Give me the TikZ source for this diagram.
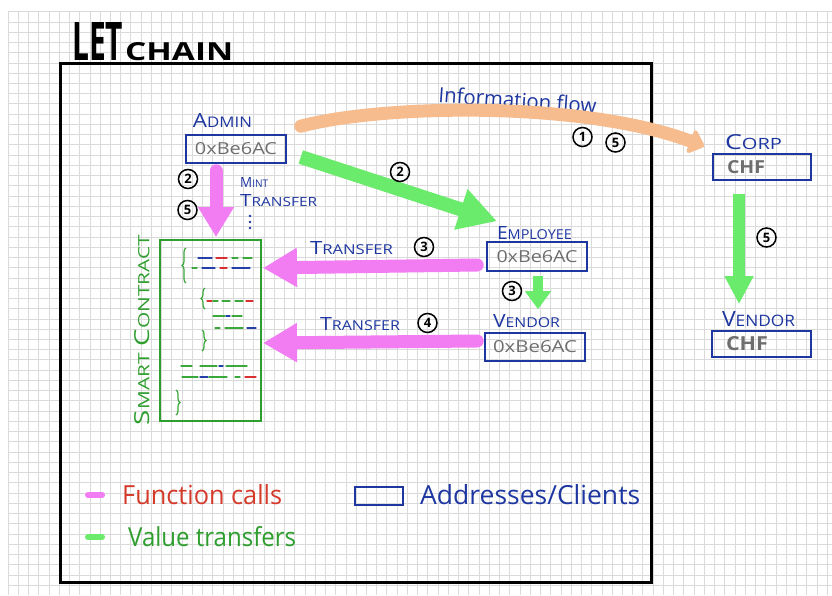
\documentclass[tikz,border=0pt]{standalone}
\usepackage{fontspec}
\setmainfont{Open Sans}
\usetikzlibrary{arrows.meta,calc,decorations.pathreplacing}
\definecolor{blueC}{HTML}{1E37A0}
\definecolor{grayT}{HTML}{6E6E6E}
\definecolor{pinkF}{HTML}{F27CF2}
\definecolor{greenF}{HTML}{6BEB6B}
\definecolor{orangeF}{HTML}{F6BC8E}
\definecolor{scgreen}{HTML}{2E9E2E}
\definecolor{redT}{HTML}{D43A2A}
\definecolor{gridC}{HTML}{DADADA}
\definecolor{dashB}{HTML}{2440A8}
\definecolor{dashR}{HTML}{D83030}
\definecolor{dashG}{HTML}{3AA83A}
\newcommand{\fitbox}[3]{\resizebox{#1pt}{#2pt}{#3}}
\newcommand{\sck}[2]{#1{\fontsize{7.5}{9}\selectfont #2}}
\begin{document}
\begin{tikzpicture}[x=1pt,y=-1pt,
  addr/.style={draw=blueC, line width=1.6pt, text=grayT, inner sep=0pt},
  lbl/.style={text=blueC, inner sep=0pt},
  num/.style={circle, draw=black, line width=1.5pt, inner sep=0pt, minimum size=19pt, font=\bfseries\fontsize{13}{13}\selectfont},
  blockarrow/.style n args={4}{draw=#1, line width=#2, -{Triangle[length=#3,width=#4]}},
  dsh/.style={line width=1.2pt, line cap=round},
  brc/.style={draw=dashG, line width=1.2pt, decorate, decoration={brace, amplitude=4pt}}]
\useasboundingbox (0,0) rectangle (832,595);
\fill[white] (0,0) rectangle (832,595);
% grid
\foreach \i in {0,...,80} \draw[gridC, line width=0.8pt] ({8+10.24*\i},11.7) -- ({8+10.24*\i},595);
\foreach \j in {0,...,56} \draw[gridC, line width=0.8pt] (8,{11.7+10.24*\j}) -- (832,{11.7+10.24*\j});
% title
\node[anchor=base west, inner sep=0pt] (tlet) at (72,60) {\fitbox{51}{38}{\bfseries LET}};
\node[anchor=base west, inner sep=0pt] (tchain) at (125,60) {\fitbox{108}{18}{\bfseries CHAIN}};
% frame
\draw[black, line width=3pt] (60,63) rectangle (651,582);
% address boxes
\node[addr, minimum width=100pt, minimum height=28pt] (admin) at (236,149) {\fitbox{82}{12}{0xBe6AC}};
\node[addr, minimum width=100pt, minimum height=29pt] (emp) at (537,256.5) {\fitbox{81}{12}{0xBe6AC}};
\node[addr, minimum width=100pt, minimum height=28pt] (ven) at (535,347) {\fitbox{84}{12}{0xBe6AC}};
\node[addr, minimum width=98pt, minimum height=26pt, text width=70pt, inner xsep=14pt, align=left] (corp) at (762,167) {\fitbox{38}{13}{\bfseries CHF}};
\node[addr, minimum width=99pt, minimum height=26pt, text width=71pt, inner xsep=14pt, align=left] (ven2) at (761.5,344) {\fitbox{42}{14}{\bfseries CHF}};
% labels
\node[lbl] (adminlbl) at (222.5,120) {\fitbox{59}{14}{\sck{A}{DMIN}}};
\node[lbl] (emplbl) at (534.5,233.5) {\fitbox{75}{13}{\sck{E}{MPLOYEE}}};
\node[lbl] (venlbl) at (526.5,321.5) {\fitbox{67}{13}{\sck{V}{ENDOR}}};
\node[lbl] (corplbl) at (753.5,142.5) {\fitbox{57}{15}{\sck{C}{ORP}}};
\node[lbl] (ven2lbl) at (758.5,319.5) {\fitbox{73}{15}{\sck{V}{ENDOR}}};
\node[lbl, anchor=west] (mint) at (240,182) {\fitbox{28}{10}{\sck{M}{INT}}};
\node[lbl, anchor=west] (minttr) at (240,201) {\fitbox{77}{12}{\sck{T}{RANSFER}}};
\foreach \yy in {216,222,228} \fill[blueC] (250,\yy) circle (1.3pt);
\node[lbl] (tr1) at (351.5,248.5) {\fitbox{83}{13}{\sck{T}{RANSFER}}};
\node[lbl] (tr2) at (360,324.5) {\fitbox{80}{13}{\sck{T}{RANSFER}}};
\node[lbl, rotate=-4] (info) at (517.5,100) {\fitbox{158}{16}{Information flow}};
% smart contract
\node[draw=scgreen, line width=2pt, minimum width=101pt, minimum height=181pt, inner sep=0pt] (sc) at (210.5,330.5) {};
\node[text=scgreen, inner sep=0pt, rotate=90] (sclbl) at (142,330) {\fitbox{190}{15}{\sck{S}{MART} \sck{C}{ONTRACT}}};
\draw[brc] (186,283) -- (186,248);
\draw[brc] (205,309) -- (205,288);
\draw[brc] (202,330) -- (202,351);
\draw[brc] (176,390) -- (176,415);
\foreach \xa/\xb/\yy/\cc in {198/212/258/dashB, 216/227/258/dashR, 232/238/258/dashG, 243/252/258/dashG,
  192/197/268/dashG, 202/215/268/dashB, 220/227/268/dashR, 232/250/268/dashB,
  207/212/301/dashR, 213/218/301/dashG, 222/230/301/dashG, 235/243/301/dashG, 246/253/301/dashR,
  213/225/316/dashG, 226/230/316/dashB, 232/242/316/dashG,
  215/220/328/dashG, 225/243/328/dashG, 247/256/328/dashB,
  181/192/366/dashG, 200/217/366/dashG, 219/223/366/dashB, 226/247/366/dashG,
  182/198/377/dashG, 200/208/377/dashB, 209/227/377/dashG, 235/240/377/dashG, 245/256/377/dashR}
  \draw[dsh, \cc] (\xa,\yy) -- (\xb,\yy);
% arrows
\draw[draw=orangeF, line width=13pt, line cap=round, -{Triangle[round,length=16pt,width=28pt]}]
  ($(admin.north east)+(14,-8)$) .. controls (380,105) and (580,100) .. ($(corp.north west)+(-8,-7)$);
\draw[blockarrow={greenF}{14pt}{38pt}{40pt}] ($(admin.east)+(14,8)$) -- ($(emp.north)+(-40,-20)$);
\draw[blockarrow={pinkF}{13pt}{30pt}{34pt}, line cap=round] ($(admin.south)+(-20,7)$) -- ($(sc.north)+(5.5,-2)$);
\draw[blockarrow={pinkF}{13pt}{34pt}{37pt}, line cap=round] ($(emp.west)+(-9,8.5)$) -- ($(sc.east)+(1,-62.5)$);
\draw[blockarrow={pinkF}{13pt}{34pt}{37pt}, line cap=round] ($(ven.west)+(-7,-6)$) -- ($(sc.east)+(1,12.5)$);
\draw[blockarrow={greenF}{10pt}{18pt}{25pt}] ($(emp.south)+(1,4)$) -- ($(ven.north)+(3,-23)$);
\draw[blockarrow={greenF}{12pt}{28pt}{27pt}] ($(corp.south)+(-23,13)$) -- ($(ven2.north)+(-22.5,-26)$);
% circled numbers
\node[num] (c1) at (582.5,137) {1};
\node[num] (c5a) at (615.5,142.5) {5};
\node[num] (c2a) at (188,179) {2};
\node[num] (c5b) at (187.5,210) {5};
\node[num] (c2b) at (400,172) {2};
\node[num] (c3a) at (424,247) {3};
\node[num] (c3b) at (512,291) {3};
\node[num] (c4) at (427.5,323) {4};
\node[num] (c5c) at (766.5,237.5) {5};
% legend
\draw[pinkF, line width=6pt, line cap=round] (88,495) -- (102,495);
\draw[greenF, line width=6pt, line cap=round] (88,537) -- (102,537);
\node[anchor=west, inner sep=0pt, text=redT] (legfn) at (122,495) {\fitbox{160}{20}{Function calls}};
\node[anchor=west, inner sep=0pt, text=scgreen] (legval) at (128,537) {\fitbox{168}{20}{Value transfers}};
\node[draw=blueC, line width=1.6pt, minimum width=48pt, minimum height=18pt, inner sep=0pt] (legbox) at (379,496) {};
\node[anchor=west, inner sep=0pt, text=blueC] (legaddr) at (420,495) {\fitbox{220}{20}{Addresses/Clients}};
\end{tikzpicture}
\end{document}
